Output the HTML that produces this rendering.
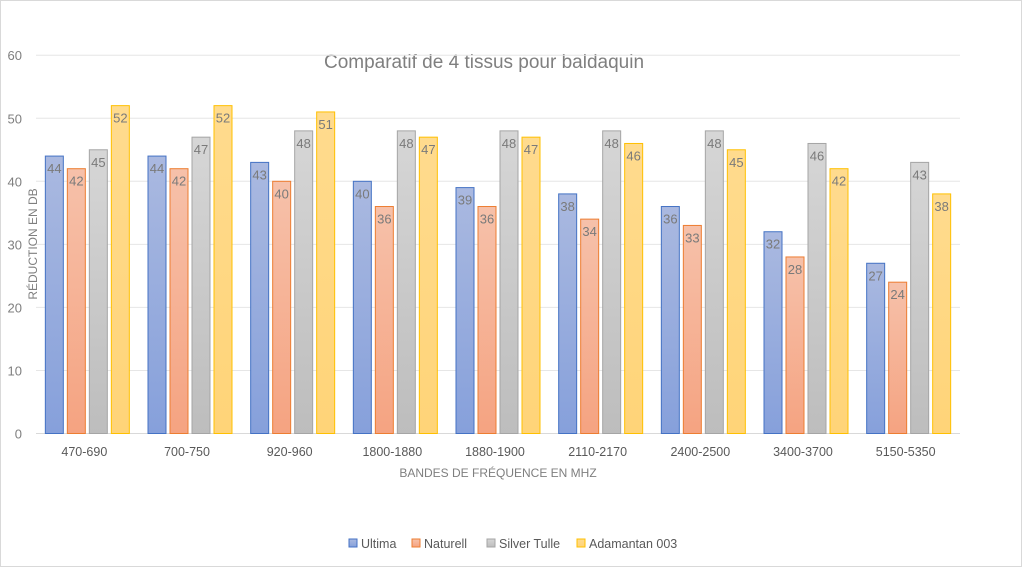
<!DOCTYPE html>
<html><head><meta charset="utf-8"><style>
body{margin:0;background:#fff;font-family:"Liberation Sans",sans-serif}
#wrap{position:relative;width:1022px;height:567px;box-sizing:border-box;border:1px solid #d9d9d9;background:#fff}
</style></head><body>
<div id="wrap">
<svg id="chart" width="1020" height="565" viewBox="1 1 1020 565">
<defs>
<linearGradient id="g0" x1="0" y1="0" x2="0" y2="1"><stop offset="0" stop-color="#aab9e0"/><stop offset="1" stop-color="#86a0db"/></linearGradient>
<linearGradient id="g1" x1="0" y1="0" x2="0" y2="1"><stop offset="0" stop-color="#f6c1aa"/><stop offset="1" stop-color="#f5a381"/></linearGradient>
<linearGradient id="g2" x1="0" y1="0" x2="0" y2="1"><stop offset="0" stop-color="#d6d6d6"/><stop offset="1" stop-color="#bdbdbd"/></linearGradient>
<linearGradient id="g3" x1="0" y1="0" x2="0" y2="1"><stop offset="0" stop-color="#ffdb8e"/><stop offset="1" stop-color="#ffd478"/></linearGradient>
</defs>
<text x="484" y="68" font-size="19" fill="#7f7f7f" text-anchor="middle">Comparatif de 4 tissus pour baldaquin</text>
<g id="grid"></g><g id="bars"></g><g id="xlabels"></g>
<text transform="translate(37,244) rotate(-90)" font-size="12" fill="#7f7f7f" text-anchor="middle">RÉDUCTION EN DB</text>
<text x="498" y="477" font-size="12" fill="#7f7f7f" text-anchor="middle">BANDES DE FRÉQUENCE EN MHZ</text>
<g id="legend"></g>
</svg></div>
<script>
const categories=["470-690","700-750","920-960","1800-1880","1880-1900","2110-2170","2400-2500","3400-3700","5150-5350"];
const seriesNames=["Ultima","Naturell","Silver Tulle","Adamantan 003"];
const ultima=[44,44,43,40,39,38,36,32,27];
const naturell=[42,42,40,36,36,34,33,28,24];
const silver=[45,47,48,48,48,48,48,46,43];
const adamantan=[52,52,51,47,47,46,45,42,38];
const yTicks=[0,10,20,30,40,50,60];
const series=[ultima,naturell,silver,adamantan];
const strokes=["#4472c4","#ed7d31","#a5a5a5","#ffc000"];
const NS="http://www.w3.org/2000/svg";
const x0=36,x1=960,y0=433.5,yTop=55.2,yMax=60;
const y=v=>y0-(y0-yTop)*v/yMax;
const bw=(x1-x0)/categories.length;
const xc=i=>x0+bw*(i+0.5);
function mk(tag,attrs,parent){const e=document.createElementNS(NS,tag);for(const k in attrs)e.setAttribute(k,attrs[k]);parent.appendChild(e);return e;}
const grid=document.getElementById('grid');
yTicks.forEach(t=>{
 const l=mk('line',{x1:x0,x2:x1,y1:y(t),y2:y(t),stroke:t===0?'#d9d9d9':'#e6e6e6','stroke-width':1},grid);
 
 
 const tx=mk('text',{x:22,y:y(t)+5,'font-size':13,fill:'#7f7f7f','text-anchor':'end'},grid);
 tx.textContent=t;
 
 
});
const bars=document.getElementById('bars');
const barW=18,step=22;
categories.forEach((c,i)=>{
 series.forEach((s,j)=>{
  const bx=xc(i)-2*step+2+j*step;
  const r=mk('rect',{x:bx,y:y(s[i]),width:barW,height:y0-y(s[i]),fill:'url(#g'+j+')',stroke:strokes[j],'stroke-width':1},bars);
  
  
  const t=mk('text',{x:bx+barW/2,y:y(s[i])+17,'font-size':13,fill:'#7a7a7a','text-anchor':'middle'},bars);
  t.textContent=s[i];
  
  
 });
 const t=mk('text',{x:xc(i)-3,y:456,'font-size':12.5,fill:'#595959','text-anchor':'middle'},document.getElementById('xlabels'));
 t.textContent=c;
 
 
});
const lg=document.getElementById('legend');
const lx=[349,412,487,577];
seriesNames.forEach((n,j)=>{
 const r=mk('rect',{x:lx[j],y:539,width:8,height:8,fill:'url(#g'+j+')',stroke:strokes[j]},lg);
 
 
 const t=mk('text',{x:lx[j]+12,y:548,'font-size':12.5,fill:'#595959'},lg);
 t.textContent=n;
 
 
});
</script>
</body></html>
